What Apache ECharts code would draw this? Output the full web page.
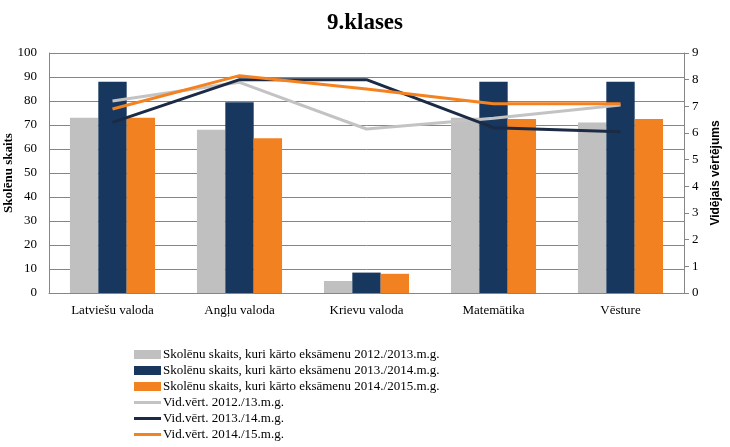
<!DOCTYPE html>
<html>
<head>
<meta charset="utf-8">
<script src="https://cdn.jsdelivr.net/npm/echarts@6/dist/echarts.min.js"></script>
<style>
  html, body { margin: 0; padding: 0; background: #fff; }
  #chart { width: 730px; height: 447px; }
</style>
</head>
<body>
<div id="chart"></div>
<script>
var categories = ['Latviešu valoda', 'Angļu valoda', 'Krievu valoda', 'Matemātika', 'Vēsture'];

var count2013 = [73, 68, 5, 73, 71];
var count2014 = [88, 79.5, 8.5, 88, 88];
var count2015 = [73, 64.5, 8, 72.5, 72.5];

var avg2013 = [7.2, 7.9, 6.15, 6.55, 7.05];
var avg2014 = [6.4, 8.0, 8.0, 6.2, 6.05];
var avg2015 = [6.9, 8.15, 7.65, 7.1, 7.1];

var names = [
    'Skolēnu skaits, kuri kārto eksāmenu 2012./2013.m.g.',
    'Skolēnu skaits, kuri kārto eksāmenu 2013./2014.m.g.',
    'Skolēnu skaits, kuri kārto eksāmenu 2014./2015.m.g.',
    'Vid.vērt. 2012./13.m.g.',
    'Vid.vērt. 2013./14.m.g.',
    'Vid.vērt. 2014./15.m.g.'
];

var serif = '"Liberation Serif", "DejaVu Serif", serif';
// thin line icon for the average series (invisible slivers keep the box 27x9)
var lineIcon = 'path://M0,0 L1,0 L1,0.01 Z M0,3 L27,3 L27,6 L0,6 Z M0,9 L1,9 L1,8.99 Z';

function bar(name, data, color) {
    return {
        name: name, type: 'bar', data: data, yAxisIndex: 0,
        barGap: '0%', barCategoryGap: '33%',
        itemStyle: { color: color }
    };
}

function line(name, data, color) {
    return {
        name: name, type: 'line', data: data, yAxisIndex: 1,
        symbol: 'none', lineStyle: { color: color, width: 3 },
        itemStyle: { color: color }
    };
}

var chart = echarts.init(document.getElementById('chart'));
chart.setOption({
    animation: false,
    title: {
        text: '9.klases', left: 'center', top: 7,
        textStyle: { fontFamily: serif, fontSize: 23, fontWeight: 'bold', color: '#000' }
    },
    grid: { left: 49, right: 46, top: 53, bottom: 154, outerBoundsMode: 'none' },
    legend: {
        orient: 'vertical', left: 134, top: 348, padding: 0,
        itemWidth: 27, itemHeight: 9, itemGap: 3,
        textStyle: { fontFamily: serif, fontSize: 13, color: '#000', padding: [0, 0, 0, -3] },
        data: names.map(function (n, i) {
            return i < 3 ? { name: n, icon: 'rect' } : { name: n, icon: lineIcon };
        })
    },
    xAxis: {
        type: 'category', data: categories,
        axisLine: { lineStyle: { color: '#868686' } },
        axisTick: { show: false },
        axisLabel: { fontFamily: serif, fontSize: 13, color: '#000', margin: 11 }
    },
    yAxis: [{
        type: 'value', min: 0, max: 100, interval: 10,
        name: 'Skolēnu skaits', nameLocation: 'middle', nameGap: 34, nameRotate: 90,
        nameMoveOverlap: false,
        nameTextStyle: { fontFamily: serif, fontSize: 13, fontWeight: 'bold', color: '#000' },
        axisLine: { show: true, lineStyle: { color: '#868686' } },
        axisTick: { show: false },
        splitLine: { lineStyle: { color: '#868686' } },
        axisLabel: { fontFamily: serif, fontSize: 13, color: '#000', margin: 12 }
    }, {
        type: 'value', min: 0, max: 9, interval: 1, position: 'right',
        name: 'Vidējais vērtējums', nameLocation: 'middle', nameGap: 26, nameRotate: 90,
        nameMoveOverlap: false,
        nameTextStyle: { fontFamily: '"Liberation Sans", Arial, sans-serif', fontSize: 12, fontWeight: 'bold', color: '#000' },
        axisLine: { show: true, lineStyle: { color: '#868686' } },
        axisTick: { show: true, length: 5, lineStyle: { color: '#868686' } },
        splitLine: { show: false },
        axisLabel: { fontFamily: serif, fontSize: 13, color: '#000', margin: 8 }
    }],
    series: [
        bar(names[0], count2013, '#c0c0c0'),
        bar(names[1], count2014, '#17375e'),
        bar(names[2], count2015, '#f28121'),
        line(names[3], avg2013, '#c3c3c3'),
        line(names[4], avg2014, '#1b2b45'),
        line(names[5], avg2015, '#f58220')
    ]
});
</script>
</body>
</html>
